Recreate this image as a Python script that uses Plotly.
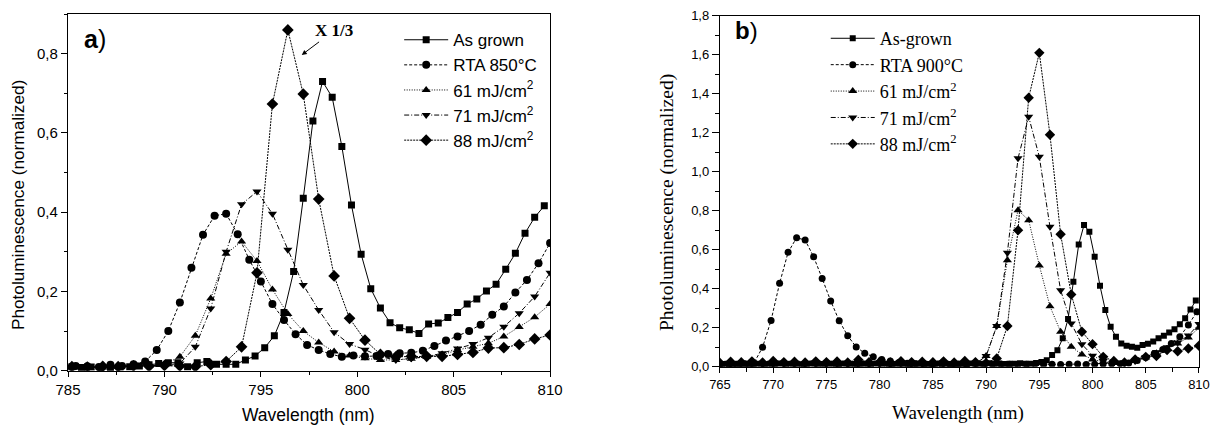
import numpy as np
import plotly.graph_objects as go

# ---------- panel a) data ----------
# sampling grids (nm): start / step read from the marker spacing
wl_a_sq = np.round(np.arange(785.2, 809.75, 0.5), 2)
wl_a_ci = np.round(np.arange(785.4, 810.05, 0.6), 2)
wl_a_tr = np.round(np.arange(785.2, 810.05, 0.8), 2)

a_as_grown = [0.010, 0.008, 0.009, 0.007, 0.008, 0.009, 0.010, 0.012, 0.015, 0.018,
              0.020, 0.020, 0.010, 0.020, 0.023, 0.016, 0.016, 0.016, 0.027, 0.037,
              0.058, 0.088, 0.147, 0.250, 0.435, 0.630, 0.730, 0.690, 0.566, 0.418,
              0.294, 0.207, 0.158, 0.121, 0.108, 0.103, 0.094, 0.118, 0.120, 0.134,
              0.147, 0.168, 0.181, 0.201, 0.218, 0.256, 0.296, 0.347, 0.387, 0.416]
a_rta850 = [0.012, 0.011, 0.009, 0.015, 0.012, 0.016, 0.023, 0.052, 0.100, 0.172,
            0.260, 0.343, 0.391, 0.396, 0.344, 0.280, 0.225, 0.168, 0.128, 0.092,
            0.065, 0.052, 0.042, 0.035, 0.038, 0.036, 0.037, 0.042, 0.044, 0.045,
            0.050, 0.062, 0.076, 0.086, 0.100, 0.116, 0.141, 0.162, 0.197, 0.229,
            0.271, 0.322]
a_61 = [0.008, 0.009, 0.008, 0.010, 0.011, 0.012, 0.016, 0.035, 0.088, 0.182,
        0.295, 0.326, 0.277, 0.205, 0.143, 0.100, 0.071, 0.048, 0.038, 0.031,
        0.027, 0.027, 0.030, 0.035, 0.040, 0.052, 0.060, 0.069, 0.086, 0.110,
        0.135, 0.168]
a_71 = [0.009, 0.008, 0.010, 0.009, 0.011, 0.012, 0.014, 0.018, 0.060, 0.157,
        0.300, 0.420, 0.452, 0.396, 0.305, 0.216, 0.153, 0.097, 0.067, 0.053,
        0.035, 0.027, 0.031, 0.035, 0.044, 0.056, 0.067, 0.083, 0.111, 0.145,
        0.187, 0.247]
a_88 = [0.010, 0.009, 0.011, 0.010, 0.012, 0.011, 0.013, 0.012, 0.010, 0.015,
        0.023, 0.060, 0.247, 0.673, 0.860, 0.698, 0.433, 0.239, 0.132, 0.077,
        0.041, 0.035, 0.036, 0.036, 0.036, 0.041, 0.046, 0.057, 0.058, 0.066,
        0.080, 0.090]

# ---------- panel b) data ----------
wl_b_sq = np.round(np.arange(765.2, 809.75, 0.5), 2)
wl_b_ci = np.round(np.arange(765.0, 809.85, 0.8), 2)
wl_b_tr = np.round(np.arange(765.0, 810.05, 1.0), 2)

b_as_grown = [0.014, 0.016, 0.013, 0.015, 0.017, 0.014, 0.016, 0.015, 0.013, 0.016,
              0.015, 0.017, 0.014, 0.016, 0.015, 0.013, 0.016, 0.017, 0.015, 0.014,
              0.016, 0.015, 0.013, 0.017, 0.016, 0.014, 0.015, 0.016, 0.014, 0.017,
              0.015, 0.016, 0.013, 0.015, 0.016, 0.014, 0.017, 0.015, 0.016, 0.014,
              0.015, 0.017, 0.016, 0.014, 0.015, 0.016, 0.014, 0.017, 0.015, 0.016,
              0.018, 0.015, 0.016, 0.014, 0.015, 0.016, 0.018, 0.015, 0.016, 0.020,
              0.025, 0.034, 0.060, 0.085, 0.146, 0.245, 0.436, 0.627, 0.727, 0.692,
              0.564, 0.415, 0.291, 0.205, 0.154, 0.120, 0.108, 0.103, 0.098, 0.112,
              0.118, 0.130, 0.146, 0.159, 0.176, 0.193, 0.218, 0.249, 0.294, 0.340]
b_rta900 = [0.012, 0.013, 0.012, 0.014, 0.020, 0.100, 0.238, 0.428, 0.587, 0.662,
            0.650, 0.564, 0.453, 0.338, 0.236, 0.159, 0.101, 0.070, 0.051, 0.038,
            0.030, 0.022, 0.018, 0.015, 0.014, 0.013, 0.014, 0.012, 0.013, 0.014,
            0.012, 0.013, 0.012, 0.014, 0.013, 0.012, 0.013, 0.014, 0.012, 0.013,
            0.012, 0.013, 0.014, 0.012, 0.013, 0.014, 0.015, 0.016, 0.020, 0.032,
            0.048, 0.068, 0.089, 0.120, 0.154, 0.214, 0.282]
b_61 = [0.012, 0.010, 0.013, 0.011, 0.012, 0.010, 0.013, 0.012, 0.011, 0.012,
        0.013, 0.011, 0.012, 0.010, 0.012, 0.013, 0.011, 0.012, 0.010, 0.012,
        0.011, 0.013, 0.012, 0.011, 0.014, 0.055, 0.209, 0.547, 0.803, 0.752,
        0.520, 0.310, 0.180, 0.103, 0.063, 0.038, 0.025, 0.020, 0.020, 0.030,
        0.048, 0.070, 0.090, 0.120, 0.150, 0.200]
b_71 = [0.011, 0.012, 0.010, 0.012, 0.011, 0.013, 0.011, 0.010, 0.012, 0.011,
        0.012, 0.013, 0.010, 0.012, 0.011, 0.012, 0.010, 0.013, 0.011, 0.012,
        0.013, 0.011, 0.010, 0.012, 0.015, 0.055, 0.209, 0.585, 1.069, 1.282,
        1.077, 0.718, 0.393, 0.222, 0.116, 0.057, 0.030, 0.022, 0.022, 0.030,
        0.050, 0.075, 0.100, 0.125, 0.160, 0.220]
b_88 = [0.020, 0.026, 0.023, 0.028, 0.022, 0.030, 0.024, 0.026, 0.022, 0.028,
        0.024, 0.027, 0.022, 0.036, 0.023, 0.025, 0.022, 0.029, 0.024, 0.026,
        0.023, 0.028, 0.022, 0.030, 0.024, 0.020, 0.043, 0.209, 0.700, 1.380,
        1.610, 1.190, 0.680, 0.371, 0.180, 0.116, 0.051, 0.030, 0.022, 0.038,
        0.051, 0.055, 0.086, 0.080, 0.094, 0.108]

series_names_a = ['As grown', 'RTA 850°C', '61 mJ/cm<sup>2</sup>', '71 mJ/cm<sup>2</sup>', '88 mJ/cm<sup>2</sup>']
series_names_b = ['As-grown', 'RTA 900°C', '61 mJ/cm<sup>2</sup>', '71 mJ/cm<sup>2</sup>', '88 mJ/cm<sup>2</sup>']
y_ticks_a = [0.0, 0.2, 0.4, 0.6, 0.8]
y_ticks_b = [0.0, 0.2, 0.4, 0.6, 0.8, 1.0, 1.2, 1.4, 1.6, 1.8]

# marker / line style per series (same order in both panels)
symbols = ['square', 'circle', 'triangle-up', 'triangle-down', 'diamond']
dashes = ['solid', '3px,2px', '1px,1.5px', '5px,2px,1px,2px', '2px,1px']
sizes_a = [7, 8, 8, 8, 9]
sizes_b = [6, 7, 8, 8, 8]

SANS = 'Liberation Sans, Arial, sans-serif'
SERIF = 'Liberation Serif, Times New Roman, serif'
W, H = 1217, 427

fig = go.Figure()

data_a = [(wl_a_sq, a_as_grown), (wl_a_ci, a_rta850), (wl_a_tr, a_61), (wl_a_tr, a_71), (wl_a_tr, a_88)]
for i, (xx, yy) in enumerate(data_a):
    fig.add_trace(go.Scatter(
        x=xx, y=yy, name=series_names_a[i], mode='lines+markers',
        line=dict(color='black', width=1, dash=dashes[i]),
        marker=dict(symbol=symbols[i], size=sizes_a[i], color='black', line=dict(width=0)),
        xaxis='x', yaxis='y', legend='legend',
    ))

data_b = [(wl_b_sq, b_as_grown), (wl_b_ci, b_rta900), (wl_b_tr, b_61), (wl_b_tr, b_71), (wl_b_tr, b_88)]
for i, (xx, yy) in enumerate(data_b):
    fig.add_trace(go.Scatter(
        x=xx, y=yy, name=series_names_b[i], mode='lines+markers',
        line=dict(color='black', width=1, dash=dashes[i]),
        marker=dict(symbol=symbols[i], size=sizes_b[i], color='black', line=dict(width=0)),
        xaxis='x2', yaxis='y2', legend='legend2',
    ))

axis_common = dict(showline=True, linecolor='black', linewidth=1.3, mirror=True,
                   showgrid=False, zeroline=False, ticks='outside', tickcolor='black',
                   tickwidth=1, automargin=False)

fig.update_layout(
    width=W, height=H,
    margin=dict(l=0, r=0, t=0, b=0, autoexpand=False),
    paper_bgcolor='white', plot_bgcolor='white',
    separators=',.',
    xaxis=dict(domain=[0.0559, 0.452], range=[785, 810], dtick=5, ticklen=5,
               minor=dict(dtick=2.5, ticks='outside', ticklen=3, tickcolor='black'),
               tickfont=dict(family=SANS, size=15, color='black'), anchor='y', **axis_common),
    yaxis=dict(domain=[0.132, 0.967], range=[0, 0.9], tickvals=y_ticks_a, tickformat='.1f', ticklen=6,
               minor=dict(dtick=0.1, ticks='outside', ticklen=3, tickcolor='black'),
               tickfont=dict(family=SANS, size=15, color='black'), anchor='x', **axis_common),
    xaxis2=dict(domain=[0.5916, 0.9852], range=[765, 810], dtick=5, ticklen=5,
                minor=dict(dtick=2.5, ticks='outside', ticklen=4, tickcolor='black'),
                tickfont=dict(family=SANS, size=13, color='black'), anchor='y2', **axis_common),
    yaxis2=dict(domain=[0.141, 0.963], range=[0, 1.8], tickvals=y_ticks_b, tickformat='.1f', ticklen=7,
                minor=dict(dtick=0.1, ticks='outside', ticklen=4, tickcolor='black'),
                tickfont=dict(family=SANS, size=13, color='black'), anchor='x2', **axis_common),
    legend=dict(x=0.328, y=0.948, xanchor='left', yanchor='top', bgcolor='rgba(0,0,0,0)',
                font=dict(family=SANS, size=17, color='black'), itemwidth=44, tracegroupgap=0),
    legend2=dict(x=0.6785, y=0.953, xanchor='left', yanchor='top', bgcolor='rgba(0,0,0,0)',
                 font=dict(family=SERIF, size=18, color='black'), itemwidth=44, tracegroupgap=0),
)


def label(text, px, py, family, size, angle=0):
    # free text placed by its centre, in pixels from the top-left corner
    fig.add_annotation(text=text, xref='paper', yref='paper', x=px / W, y=1 - py / H,
                       xanchor='center', yanchor='middle', textangle=angle, showarrow=False,
                       font=dict(family=family, size=size, color='black'))


label('Wavelength (nm)', 308, 415, SANS, 17.5)
label('Photoluminescence (normalized)', 18, 205, SANS, 17.2, -90)
label('Wavelength (nm)', 958, 413, SERIF, 19)
label('Photoluminescence (normalized)', 667, 203, SERIF, 19.5, -90)
label('<b>a</b>)', 95, 39, SANS, 25)
label('<b>b</b>)', 746, 31, SANS, 24)

# "X 1/3" note with arrow pointing at the 88 mJ/cm2 curve
fig.add_annotation(text='<b>X 1/3</b>', xref='x', yref='y', x=797.12, y=0.797,
                   ax=32, ay=-24, showarrow=True, arrowhead=2, arrowsize=1, arrowwidth=1,
                   arrowcolor='black', font=dict(family=SERIF, size=17, color='black'))

# the page body has a default 8px margin; drop it so the figure sits at the window's corner
fig.write_html('out.html', config={'displayModeBar': False},
               post_script="document.body.style.margin='0px';")
